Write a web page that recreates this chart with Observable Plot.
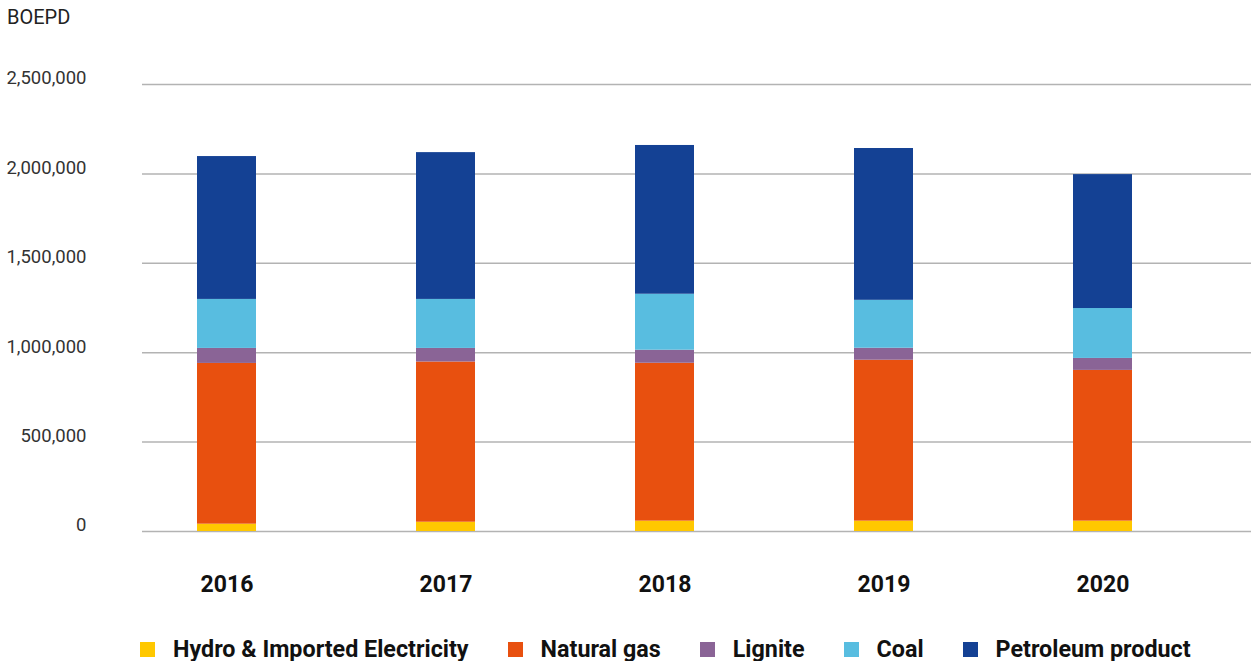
<!DOCTYPE html>
<html>
<head>
<meta charset="utf-8">
<script src="https://cdn.jsdelivr.net/npm/d3@7"></script>
<script src="https://cdn.jsdelivr.net/npm/@observablehq/plot@0.6"></script>
<style>
  html, body { margin: 0; padding: 0; background: #fff; }
  body { width: 1251px; height: 661px; position: relative; overflow: hidden; font-family: Roboto, "Noto Sans", sans-serif; }
  #unit { position: absolute; left: 7px; top: 5px; font-size: 20px; color: #222; }
  #chart { position: absolute; left: 0; top: 0; }
  #legend { position: absolute; left: 140px; top: 634px; display: flex; align-items: center; height: 30px; }
  .item { display: flex; align-items: center; margin-right: 39px; font-weight: 700; font-size: 23.3px; color: #111; white-space: nowrap; }
  .sw { width: 15px; height: 15px; margin-right: 18px; }
</style>
</head>
<body>
<div id="chart"></div>
<div id="unit">BOEPD</div>
<div id="legend"></div>
<script>
const years = ["2016", "2017", "2018", "2019", "2020"];
const seriesNames = ["Hydro & Imported Electricity", "Natural gas", "Lignite", "Coal", "Petroleum product"];
const seriesColors = ["#FFC800", "#E8500F", "#8A6496", "#58BDE0", "#144194"];
const hydro = [41000, 52000, 58000, 58000, 58000];
const naturalGas = [899000, 896000, 883000, 900000, 843000];
const lignite = [84000, 76000, 73000, 67000, 67000];
const coal = [274000, 274000, 313000, 268000, 279000];
const petroleum = [799000, 821000, 832000, 849000, 749000];
const yTicks = [0, 500000, 1000000, 1500000, 2000000, 2500000];

const seriesValues = [hydro, naturalGas, lignite, coal, petroleum];
const data = [];
seriesNames.forEach((s, i) => {
  years.forEach((y, j) => data.push({year: y, series: s, value: seriesValues[i][j]}));
});

const fmt = d3.format(",");

const chart = Plot.plot({
  width: 1251,
  height: 620,
  marginLeft: 142,
  marginRight: 0,
  marginTop: 84,
  marginBottom: 89,
  style: { fontFamily: "Roboto, 'Noto Sans', sans-serif", background: "#fff" },
  x: { domain: years, padding: 0.732, paddingOuter: 0.3865, align: 0.315, label: null },
  y: { domain: [0, 2500000], ticks: yTicks, label: null },
  color: { domain: seriesNames, range: seriesColors },
  marks: [
    Plot.gridY(yTicks, { stroke: "#b3b3b3", strokeOpacity: 1, strokeWidth: 1.5 }),
    Plot.barY(data, { x: "year", y: "value", fill: "series", order: seriesNames }),
    Plot.axisY(yTicks, { tickSize: 0, tickPadding: 56, tickFormat: fmt, fontSize: 18.5, fill: "#333", dy: -6, label: null }),
    Plot.axisX({ tickSize: 0, tickPadding: 44, fontSize: 23, fontWeight: 700, fill: "#111", label: null })
  ]
});
document.getElementById("chart").appendChild(chart);

const legend = document.getElementById("legend");
seriesNames.forEach((s, i) => {
  const item = document.createElement("div");
  item.className = "item";
  const sw = document.createElement("span");
  sw.className = "sw";
  sw.style.background = seriesColors[i];
  const t = document.createElement("span");
  t.textContent = s;
  item.appendChild(sw);
  item.appendChild(t);
  legend.appendChild(item);
});
</script>
</body>
</html>
